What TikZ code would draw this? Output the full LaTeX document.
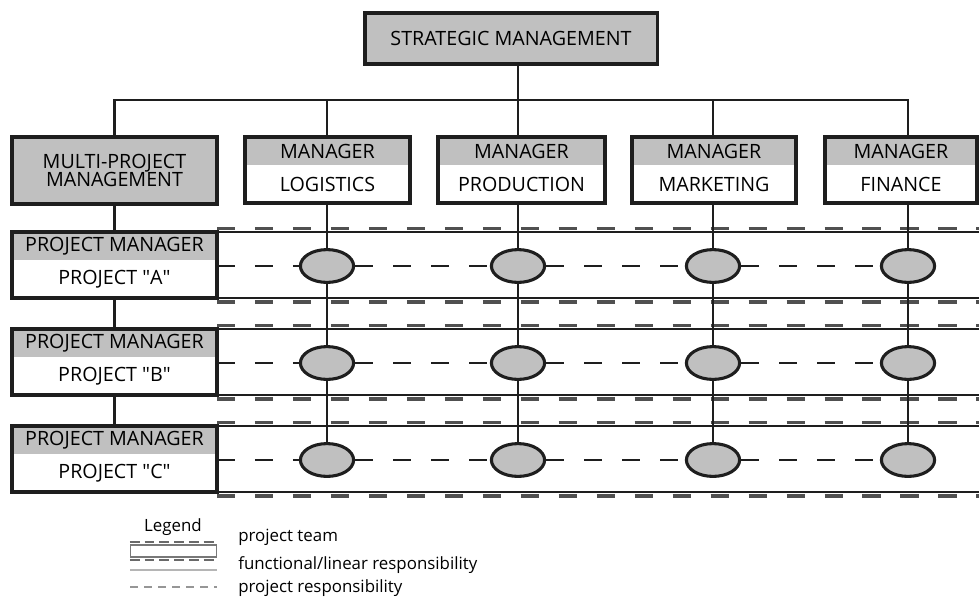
\documentclass[tikz,border=0pt]{standalone}
\usepackage{fontspec}
\setmainfont{Open Sans}
\usepackage{tikz}
\usetikzlibrary{positioning, shapes.geometric}

\definecolor{boxgray}{RGB}{192,192,192}
\definecolor{linegray}{RGB}{30,30,30}
\definecolor{teamgray}{RGB}{80,80,80}
\definecolor{keygray}{RGB}{150,150,150}

\begin{document}
\begin{tikzpicture}[x=0.025cm, y=-0.025cm,
    boxfont/.style={font=\fontsize{14}{16}\selectfont},
    head/.style={rectangle, fill=boxgray, inner sep=0pt, outer sep=0pt, boxfont, minimum height=0.7cm},
    body/.style={rectangle, fill=white, inner sep=0pt, outer sep=0pt, boxfont, minimum height=0.95cm},
    outline/.style={draw=linegray, line width=2.2pt},
    func/.style={draw=linegray, line width=2pt},
    proj/.style={draw=linegray, line width=1.5pt, dash pattern=on 13pt off 14pt},
    team/.style={draw=linegray, line width=1.3pt},
    teamdash/.style={draw=teamgray, line width=2.4pt, dash pattern=on 13pt off 14pt},
    member/.style={ellipse, draw=linegray, fill=boxgray, line width=2.2pt, minimum width=1.33cm, minimum height=0.82cm, inner sep=0pt},
    legtext/.style={font=\fontsize{12}{14}\selectfont, inner sep=0pt}]
    \useasboundingbox (0,0) rectangle (979,600);

    % Nodes
    \node (strat) at (511,38.5) [rectangle, outline, fill=boxgray, minimum width=7.3cm, minimum height=1.275cm, boxfont] {STRATEGIC MANAGEMENT};
    \node (multi) at (114.5,170.5) [rectangle, outline, fill=boxgray, minimum width=5.125cm, minimum height=1.675cm, align=center, font=\fontsize{14}{13}\selectfont] {MULTI-PROJECT\\MANAGEMENT};

    \node (logH) at (327.5,151) [head, minimum width=4.125cm] {MANAGER};
    \node (log) [body, below=0pt of logH, minimum width=4.125cm] {LOGISTICS};
    \node (prodH) at (521.5,151) [head, minimum width=4.175cm] {MANAGER};
    \node (prod) [body, below=0pt of prodH, minimum width=4.175cm] {PRODUCTION};
    \node (mktH) at (714,151) [head, minimum width=4.1cm] {MANAGER};
    \node (mkt) [body, below=0pt of mktH, minimum width=4.1cm] {MARKETING};
    \node (finH) at (901,151) [head, minimum width=3.8cm] {MANAGER};
    \node (fin) [body, below=0pt of finH, minimum width=3.8cm] {FINANCE};

    \node (pmAh) at (114.5,246) [head, minimum width=5.125cm] {PROJECT MANAGER};
    \node (pmA) [body, below=0pt of pmAh, minimum width=5.125cm] {PROJECT \textquotedbl A\textquotedbl};
    \node (pmBh) at (114.5,343) [head, minimum width=5.125cm] {PROJECT MANAGER};
    \node (pmB) [body, below=0pt of pmBh, minimum width=5.125cm] {PROJECT \textquotedbl B\textquotedbl};
    \node (pmCh) at (114.5,440) [head, minimum width=5.125cm] {PROJECT MANAGER};
    \node (pmC) [body, below=0pt of pmCh, minimum width=5.125cm] {PROJECT \textquotedbl C\textquotedbl};

    % Box outlines
    \draw[outline] (logH.north west) rectangle (log.south east);
    \draw[outline] (prodH.north west) rectangle (prod.south east);
    \draw[outline] (mktH.north west) rectangle (mkt.south east);
    \draw[outline] (finH.north west) rectangle (fin.south east);
    \draw[outline] (pmAh.north west) rectangle (pmA.south east);
    \draw[outline] (pmBh.north west) rectangle (pmB.south east);
    \draw[outline] (pmCh.north west) rectangle (pmC.south east);

    % Team members
    \node (eA1) at (327,266) [member] {};
    \node (eA2) at (518,266) [member] {};
    \node (eA3) at (713,266) [member] {};
    \node (eA4) at (908,266) [member] {};
    \node (eB1) at (327,363) [member] {};
    \node (eB2) at (518,363) [member] {};
    \node (eB3) at (713,363) [member] {};
    \node (eB4) at (908,363) [member] {};
    \node (eC1) at (327,460) [member] {};
    \node (eC2) at (518,460) [member] {};
    \node (eC3) at (713,460) [member] {};
    \node (eC4) at (908,460) [member] {};

    \coordinate (bar) at (0,100);
    \coordinate (edge) at (979,0);

    % Project teams
    \draw[team] (pmAh.north east) -- (pmAh.north east -| edge);
    \draw[team] (pmA.south east) -- (pmA.south east -| edge);
    \draw[team] (pmBh.north east) -- (pmBh.north east -| edge);
    \draw[team] (pmB.south east) -- (pmB.south east -| edge);
    \draw[team] (pmCh.north east) -- (pmCh.north east -| edge);
    \draw[team] (pmC.south east) -- (pmC.south east -| edge);
    \draw[teamdash, transform canvas={yshift=2.3pt}] (pmAh.north east) -- (pmAh.north east -| edge);
    \draw[teamdash, transform canvas={yshift=-2.9pt}] (pmA.south east) -- (pmA.south east -| edge);
    \draw[teamdash, transform canvas={yshift=2.3pt}] (pmBh.north east) -- (pmBh.north east -| edge);
    \draw[teamdash, transform canvas={yshift=-2.9pt}] (pmB.south east) -- (pmB.south east -| edge);
    \draw[teamdash, transform canvas={yshift=2.3pt}] (pmCh.north east) -- (pmCh.north east -| edge);
    \draw[teamdash, transform canvas={yshift=-2.9pt}] (pmC.south east) -- (pmC.south east -| edge);

    % Functional lines
    \draw[func] (strat.south -| eA2) -- (bar -| eA2);
    \draw[func] (multi.north) |- (bar -| eA4) -- (finH.north -| eA4);
    \draw[func] (bar -| eA1) -- (logH.north -| eA1);
    \draw[func] (bar -| eA2) -- (prodH.north -| eA2);
    \draw[func] (bar -| eA3) -- (mktH.north -| eA3);
    \draw[func] (multi.south) -- (pmAh.north);
    \draw[func] (pmA.south) -- (pmBh.north);
    \draw[func] (pmB.south) -- (pmCh.north);
    \draw[func] (log.south -| eA1) -- (eA1) -- (eB1) -- (eC1);
    \draw[func] (prod.south -| eA2) -- (eA2) -- (eB2) -- (eC2);
    \draw[func] (mkt.south -| eA3) -- (eA3) -- (eB3) -- (eC3);
    \draw[func] (fin.south -| eA4) -- (eA4) -- (eB4) -- (eC4);

    % Project lines
    \draw[proj] (pmA.east |- eA1) -- (eA1) -- (eA2) -- (eA3) -- (eA4);
    \draw[proj] (pmB.east |- eB1) -- (eB1) -- (eB2) -- (eB3) -- (eB4);
    \draw[proj] (pmC.east |- eC1) -- (eC1) -- (eC2) -- (eC3) -- (eC4);

    % Legend
    \node (legend) at (173,527) [legtext] {Legend};
    \node (teamkey) at (173.5,551) [rectangle, draw=keygray!80!black, line width=0.9pt, minimum width=2.15cm, minimum height=0.3cm, inner sep=0pt] {};
    \draw[draw=keygray!70!black, line width=1.5pt, dash pattern=on 7pt off 3.5pt, transform canvas={yshift=1.5pt}] (teamkey.north west) -- (teamkey.north east);
    \draw[draw=keygray!70!black, line width=1.5pt, dash pattern=on 7pt off 3.5pt, transform canvas={yshift=-1.5pt}] (teamkey.south west) -- (teamkey.south east);
    \coordinate (funckey) at (130,570);
    \coordinate (projkey) at (130,587);
    \draw[draw=keygray!70, line width=1pt] (funckey) -- ++(87,0);
    \draw[draw=keygray, line width=1pt, dash pattern=on 5.5pt off 4.5pt] (projkey) -- ++(87,0);
    \node (teamtext) at (238,537) [legtext, anchor=west] {project team};
    \node (functext) at (238,565) [legtext, anchor=west] {functional/linear responsibility};
    \node (projtext) at (238,588) [legtext, anchor=west] {project responsibility};
\end{tikzpicture}
\end{document}
